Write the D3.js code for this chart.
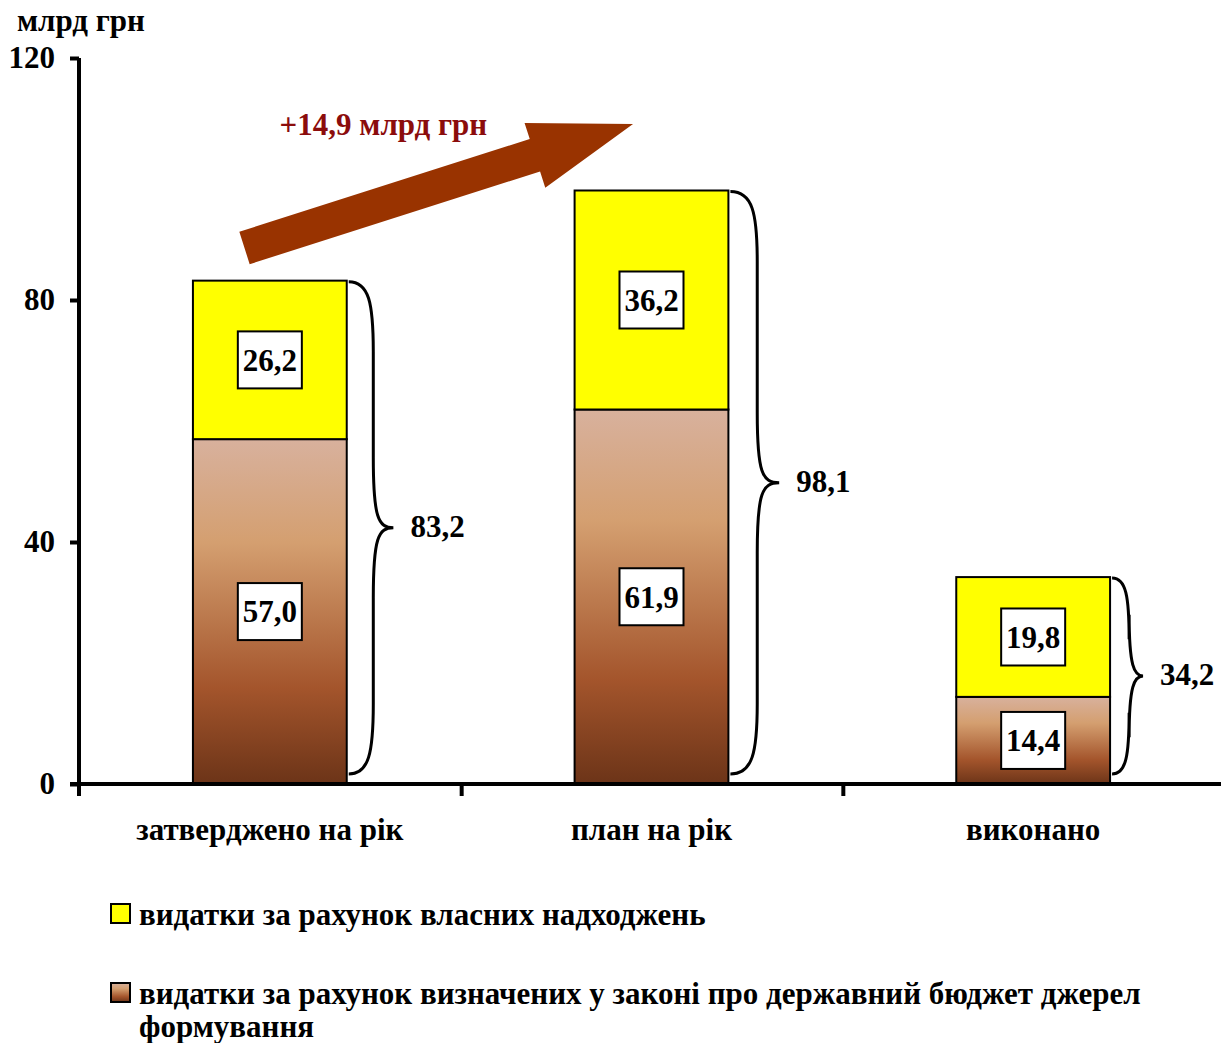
<!DOCTYPE html>
<html>
<head>
<meta charset="utf-8">
<script src="https://cdn.jsdelivr.net/npm/d3@7"></script>
<style>
  body { margin: 0; background: #fff; }
</style>
</head>
<body>
<div id="app"></div>
<script>
// Chart data
const categories = ["затверджено на рік", "план на рік", "виконано"];
const specialFunds = [57.0, 61.9, 14.4];   // визначені у законі джерела
const ownRevenue = [26.2, 36.2, 19.8];     // власні надходження
const totals = [83.2, 98.1, 34.2];
const yTicks = [0, 40, 80, 120];
const legendLabels = [
  "видатки за рахунок власних надходжень",
  ["видатки за рахунок визначених у законі про державний бюджет джерел", "формування"]
];
const unitLabel = "млрд грн";
const growthLabel = "+14,9 млрд грн";

const FONT = '"Liberation Serif", "Times New Roman", serif';

function styleText(sel, size) {
  return sel.style("font-family", FONT)
    .style("font-weight", "bold")
    .style("font-size", size + "px");
}

function drawPlot(targetDiv) {
  const width = 1221, height = 1043;
  const svg = d3.select(targetDiv).append("svg")
    .attr("width", width)
    .attr("height", height)
    .attr("viewBox", [0, 0, width, height])
    .style("font-family", FONT);

  const defs = svg.append("defs");
  const grad = defs.append("linearGradient")
    .attr("id", "brownGrad")
    .attr("x1", 0).attr("y1", 0).attr("x2", 0).attr("y2", 1);
  grad.selectAll("stop")
    .data([
      [0, "#d8b19d"], [0.3, "#d49f70"], [0.72, "#a4552c"], [1, "#6c3418"]
    ])
    .join("stop")
    .attr("offset", d => d[0])
    .attr("stop-color", d => d[1]);

  const x = d3.scaleBand()
    .domain(categories)
    .range([80, 1225]);
  const y = d3.scaleLinear()
    .domain([0, 120])
    .range([784, 58]);

  const barW = x.bandwidth() * 0.403;
  const barX = c => x(c) + (x.bandwidth() - barW) / 2 - 1;

  // y axis
  const yAxis = svg.append("g")
    .attr("transform", "translate(79,0)")
    .call(d3.axisLeft(y).tickValues(yTicks).tickSize(9).tickPadding(15).tickFormat(d3.format("d")));
  yAxis.attr("font-family", null);
  yAxis.select(".domain").attr("d", `M0,${y(120)}V${y(0) + 12}`)
    .attr("stroke", "#000").attr("stroke-width", 4);
  yAxis.selectAll(".tick line").attr("stroke", "#000").attr("stroke-width", 4);
  styleText(yAxis.selectAll(".tick text").attr("fill", "#000"), 31);

  // bars
  const stack = categories.map((c, i) => ({ c, lo: specialFunds[i], hi: ownRevenue[i], total: totals[i] }));

  svg.append("g").selectAll("rect")
    .data(stack)
    .join("rect")
    .attr("x", d => barX(d.c))
    .attr("y", d => y(d.lo))
    .attr("width", barW)
    .attr("height", d => y(0) - y(d.lo))
    .attr("fill", "url(#brownGrad)")
    .attr("stroke", "#000")
    .attr("stroke-width", 2);

  svg.append("g").selectAll("rect")
    .data(stack)
    .join("rect")
    .attr("x", d => barX(d.c))
    .attr("y", d => y(d.lo + d.hi))
    .attr("width", barW)
    .attr("height", d => y(d.lo) - y(d.lo + d.hi))
    .attr("fill", "#ffff00")
    .attr("stroke", "#000")
    .attr("stroke-width", 2);

  // x axis
  const xAxis = svg.append("g").attr("transform", `translate(0,${y(0)})`);
  xAxis.append("line")
    .attr("x1", 70).attr("x2", width)
    .attr("stroke", "#000").attr("stroke-width", 4);
  xAxis.selectAll("line.tk")
    .data(categories.slice(1))
    .join("line")
    .attr("class", "tk")
    .attr("x1", d => x(d)).attr("x2", d => x(d))
    .attr("y1", 0).attr("y2", 12)
    .attr("stroke", "#000").attr("stroke-width", 4);
  styleText(xAxis.selectAll("text")
    .data(categories)
    .join("text")
    .attr("x", d => x(d) + x.bandwidth() / 2 - 1)
    .attr("y", 56)
    .attr("text-anchor", "middle")
    .text(d => d), 31);

  // value boxes
  const boxW = 64, boxH = 57;
  const valueBoxes = stack.flatMap(d => [
    { c: d.c, v: d.lo, mid: y(d.lo / 2) },
    { c: d.c, v: d.hi, mid: y(d.lo + d.hi / 2) }
  ]);
  const fmt = v => d3.format(".1f")(v).replace(".", ",");
  const vb = svg.append("g").selectAll("g")
    .data(valueBoxes)
    .join("g")
    .attr("transform", d => `translate(${barX(d.c) + barW / 2},${d.mid})`);
  vb.append("rect")
    .attr("x", -boxW / 2).attr("y", -boxH / 2)
    .attr("width", boxW).attr("height", boxH)
    .attr("fill", "#fff").attr("stroke", "#000").attr("stroke-width", 2);
  styleText(vb.append("text")
    .attr("text-anchor", "middle")
    .attr("dy", "0.35em")
    .text(d => fmt(d.v)), 31);

  // braces with totals
  function bracePath(x0, y1, y2, w) {
    const xm = x0 + w * 0.55, ym = (y1 + y2) / 2;
    const r = Math.min(70, (y2 - y1) / 3.2);
    return `M${x0},${y1}` +
      `C${x0 + w * 0.45},${y1} ${xm},${y1 + r * 0.3} ${xm},${y1 + r}` +
      `L${xm},${ym - r}` +
      `C${xm},${ym - 10} ${xm + 5},${ym} ${x0 + w},${ym}` +
      `C${xm + 5},${ym} ${xm},${ym + 10} ${xm},${ym + r}` +
      `L${xm},${y2 - r}` +
      `C${xm},${y2 - r * 0.3} ${x0 + w * 0.45},${y2} ${x0},${y2}`;
  }
  const braceW = (y1, y2) => 22 + (y2 - y1) * 0.046;
  const braces = svg.append("g").selectAll("g")
    .data(stack)
    .join("g");
  braces.append("path")
    .attr("d", d => {
      const y1 = y(d.total) + 1, y2 = y(0) - 10;
      return bracePath(barX(d.c) + barW + 2, y1, y2, braceW(y1, y2));
    })
    .attr("fill", "none")
    .attr("stroke", "#000")
    .attr("stroke-width", 3);
  styleText(braces.append("text")
    .attr("x", d => {
      const y1 = y(d.total) + 1, y2 = y(0) - 10;
      return barX(d.c) + barW + 2 + braceW(y1, y2) + 17;
    })
    .attr("y", d => (y(d.total) + y(0) - 9) / 2 - 2)
    .attr("dy", "0.35em")
    .text(d => fmt(d.total)), 31);

  // growth arrow between first two columns
  const tail = [x(categories[0]) + x.bandwidth() * 0.431, y(88.6)];
  const tip = [x(categories[1]) + x.bandwidth() * 0.449, y(109.1)];
  const dx = tip[0] - tail[0], dy = tip[1] - tail[1];
  const len = Math.hypot(dx, dy);
  const u = [dx / len, dy / len], n = [-u[1], u[0]];
  const shaftHalf = 17, headHalf = 34, headLen = 103;
  const base = [tip[0] - u[0] * headLen, tip[1] - u[1] * headLen];
  const pt = (p, s) => [p[0] + n[0] * s, p[1] + n[1] * s];
  const arrowPts = [
    pt(tail, -shaftHalf), pt(base, -shaftHalf), pt(base, -headHalf), tip,
    pt(base, headHalf), pt(base, shaftHalf), pt(tail, shaftHalf)
  ];
  svg.append("path")
    .attr("d", d3.line()(arrowPts) + "Z")
    .attr("fill", "#993300");
  styleText(svg.append("text")
    .attr("x", x(categories[0]) + x.bandwidth() * 0.795)
    .attr("y", y(109))
    .attr("dy", "0.35em")
    .attr("text-anchor", "middle")
    .attr("fill", "#8b0c0c")
    .text(growthLabel), 31);

  // unit label
  styleText(svg.append("text")
    .attr("x", 17).attr("y", 31)
    .text(unitLabel), 31);

  // legend
  const legend = svg.append("g");
  const legItems = [
    { fill: "#ffff00", lines: [legendLabels[0]], y: 914 },
    { fill: "url(#brownGrad)", lines: legendLabels[1], y: 993 }
  ];
  legItems.forEach(it => {
    legend.append("rect")
      .attr("x", 111).attr("y", it.y - 10)
      .attr("width", 19).attr("height", 19)
      .attr("fill", it.fill).attr("stroke", "#000").attr("stroke-width", 2);
    const t = styleText(legend.append("text")
      .attr("x", 139).attr("y", it.y), 31);
    it.lines.forEach((l, i) => {
      t.append("tspan").attr("x", 139).attr("dy", i === 0 ? "0.35em" : "1.06em").text(l);
    });
  });
}

function main() {
  drawPlot("#app");
}

document.addEventListener("DOMContentLoaded", main);
</script>
</body>
</html>
